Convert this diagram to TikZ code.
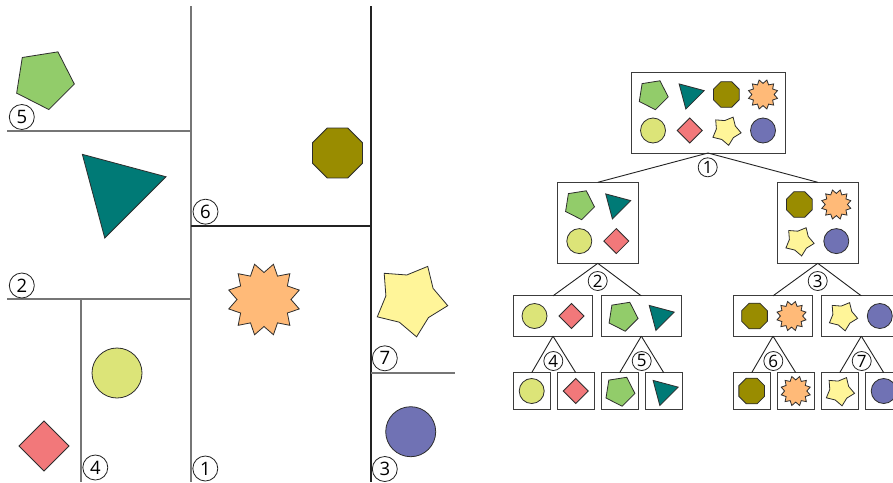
\documentclass[tikz,border=0pt]{standalone}
\usepackage{fontspec}
\setmainfont{Open Sans}
\definecolor{cPent}{RGB}{146,204,106}
\definecolor{cTri}{RGB}{0,122,118}
\definecolor{cOct}{RGB}{153,140,0}
\definecolor{cBurst}{RGB}{255,186,120}
\definecolor{cStar}{RGB}{255,245,153}
\definecolor{cBlue}{RGB}{112,114,180}
\definecolor{cYG}{RGB}{220,228,120}
\definecolor{cDia}{RGB}{242,120,122}
\definecolor{lgray}{RGB}{118,118,118}
\definecolor{ldark}{RGB}{35,35,35}
\definecolor{sline}{RGB}{45,45,45}
\definecolor{bline}{RGB}{60,60,60}
\tikzset{
  sh/.style={draw=sline,line width=0.8pt,line join=miter},
  pgray/.style={draw=lgray,line width=1.6pt},
  pdark/.style={draw=ldark,line width=1.6pt},
  bigLbl/.style={circle,draw=ldark,line width=0.8pt,minimum size=25pt,inner sep=0pt,font=\fontsize{18.5}{18.5}\selectfont},
  treeLbl/.style={circle,draw=ldark,line width=0.8pt,minimum size=19pt,inner sep=0pt,font=\fontsize{17}{17}\selectfont},
  tbox/.style={draw=bline,line width=1pt,outer sep=0pt,inner sep=0pt},
  edge/.style={draw=ldark,line width=0.9pt},
  pics/pent/.style={code={\draw[sh,fill=cPent] (-9:#1pt) -- (63:#1pt) -- (135:#1pt) -- (207:#1pt) -- (279:#1pt) -- cycle;}},
  pics/tri/.style={code={\draw[sh,fill=cTri] (15:#1pt) -- (135:#1pt) -- (255:#1pt) -- cycle;}},
  pics/oct/.style={code={\draw[sh,fill=cOct] (22.5:#1pt) \foreach \a in {67.5,112.5,...,337.5}{ -- (\a:#1pt)} -- cycle;}},
  pics/burst/.style={code={\pgfmathsetmacro\rin{0.74*#1}
     \draw[sh,fill=cBurst] (15:#1pt) \foreach \a in {30,60,...,360}{ -- (\a:\rin pt) -- ({\a+15}:#1pt)} -- cycle;}},
  pics/pstar/.style={code={\pgfmathsetmacro\rin{0.67*#1}
     \draw[sh,fill=cStar] (-9:#1pt) \foreach \a in {63,135,207,279}{ -- ({\a-36}:\rin pt) -- (\a:#1pt)} -- (315:\rin pt) -- cycle;}},
  pics/bcirc/.style={code={\draw[sh,fill=cBlue] (0,0) circle[radius=#1pt];}},
  pics/ycirc/.style={code={\draw[sh,fill=cYG] (0,0) circle[radius=#1pt];}},
  pics/dia/.style={code={\draw[sh,fill=cDia] (0:#1pt) -- (90:#1pt) -- (180:#1pt) -- (270:#1pt) -- cycle;}},
}
\begin{document}
\begin{tikzpicture}[x=1pt,y=-1pt]
\useasboundingbox[fill=white] (0,0) rectangle (893,482);
% ---------- partition ----------
\draw[pgray] (191,6) -- (191,482);
\draw[pdark] (371,6) -- (371,482);
\draw[pgray] (7,131) -- (191,131);
\draw[pgray] (7,299) -- (191,299);
\draw[pgray] (81,299) -- (81,482);
\draw[pdark] (191,226) -- (371,226);
\draw[pgray] (371,373) -- (455,373);
% big shapes
\pic at (44,79.2) {pent=30.7};
\pic at (117.7,189.7) {tri=50};
\pic at (337.5,153) {oct=27};
\pic at (264,299.5) {burst=36.5};
\pic at (410.7,299.8) {pstar=37.5};
\pic at (410.7,431.7) {bcirc=25};
\pic at (117,373) {ycirc=25};
\pic at (44,446) {dia=25};
% big labels
\node[bigLbl] (p5) at (21.8,117) {5};
\node[bigLbl] (p2) at (21.8,285.5) {2};
\node[bigLbl] (p4) at (95.3,467.5) {4};
\node[bigLbl] (p6) at (205.5,211.7) {6};
\node[bigLbl] (p1) at (205.3,468.5) {1};
\node[bigLbl] (p7) at (384.8,358.3) {7};
\node[bigLbl] (p3) at (384.8,469) {3};
% ---------- tree ----------
\node[tbox,minimum width=154pt,minimum height=81pt] (root) at (708,112.5) {};
\node[tbox,minimum width=81pt,minimum height=81pt] (cL) at (597.8,222.8) {};
\node[tbox,minimum width=81pt,minimum height=81pt] (cR) at (817.8,222.8) {};
\foreach \n/\x in {gA/553,gB/641.3,gC/773,gD/861.3}{
  \node[tbox,minimum width=79.4pt,minimum height=40.3pt] (\n) at (\x,316) {};
}
\foreach \n/\x in {l1/531.7,l2/575.7,l3/619.7,l4/663.7,l5/751.7,l6/795.7,l7/839.7,l8/883.7}{
  \node[tbox,minimum width=36.7pt,minimum height=36.7pt] (\n) at (\x,391) {};
}
% edges
\draw[edge] (root.south) -- (cL.north);
\draw[edge] (root.south) -- (cR.north);
\draw[edge] (cL.south) -- (gA.north);
\draw[edge] (cL.south) -- (gB.north);
\draw[edge] (cR.south) -- (gC.north);
\draw[edge] (cR.south) -- (gD.north);
\draw[edge] (gA.south) -- (l1.north);
\draw[edge] (gA.south) -- (l2.north);
\draw[edge] (gB.south) -- (l3.north);
\draw[edge] (gB.south) -- (l4.north);
\draw[edge] (gC.south) -- (l5.north);
\draw[edge] (gC.south) -- (l6.north);
\draw[edge] (gD.south) -- (l7.north);
\draw[edge] (gD.south) -- (l8.north);
% tree labels
\node[treeLbl,fill=white] (t1) at (707.7,167.3) {1};
\node[treeLbl,fill=white] (t2) at (597.7,281) {2};
\node[treeLbl,fill=white] (t3) at (817.7,281) {3};
\node[treeLbl,fill=white] (t4) at (553.3,361) {4};
\node[treeLbl,fill=white] (t5) at (641.7,361) {5};
\node[treeLbl,fill=white] (t6) at (773.3,361) {6};
\node[treeLbl,fill=white] (t7) at (861.7,361) {7};
% root shapes
\pic at ([shift={(-55,-18)}]root.center) {pent=15.4};
\pic at ([shift={(-18.3,-18)}]root.center) {tri=15};
\pic at ([shift={(18.3,-18)}]root.center) {oct=13.9};
\pic at ([shift={(55,-18)}]root.center) {burst=15};
\pic at ([shift={(-55,18)}]root.center) {ycirc=12.5};
\pic at ([shift={(-18.3,18)}]root.center) {dia=12.5};
\pic at ([shift={(18.3,18)}]root.center) {pstar=15};
\pic at ([shift={(55,18)}]root.center) {bcirc=12.5};
% child shapes
\pic at ([shift={(-18.5,-18.3)}]cL.center) {pent=15.4};
\pic at ([shift={(18.5,-18.3)}]cL.center) {tri=15};
\pic at ([shift={(-18.5,18.3)}]cL.center) {ycirc=12.5};
\pic at ([shift={(18.5,18.3)}]cL.center) {dia=12.5};
\pic at ([shift={(-18.5,-18.3)}]cR.center) {oct=13.9};
\pic at ([shift={(18.5,-18.3)}]cR.center) {burst=15};
\pic at ([shift={(-18.5,18.3)}]cR.center) {pstar=15};
\pic at ([shift={(18.5,18.3)}]cR.center) {bcirc=12.5};
% grandchild shapes
\pic at ([shift={(-18.5,0)}]gA.center) {ycirc=12.5};
\pic at ([shift={(18.5,0)}]gA.center) {dia=12.5};
\pic at ([shift={(-18.5,0)}]gB.center) {pent=15.4};
\pic at ([shift={(18.5,0)}]gB.center) {tri=15};
\pic at ([shift={(-18.5,0)}]gC.center) {oct=13.9};
\pic at ([shift={(18.5,0)}]gC.center) {burst=15};
\pic at ([shift={(-18.5,0)}]gD.center) {pstar=15};
\pic at ([shift={(18.5,0)}]gD.center) {bcirc=12.5};
% leaf shapes
\pic at (l1.center) {ycirc=12.5};
\pic at (l2.center) {dia=12.5};
\pic at (l3.center) {pent=15.4};
\pic at (l4.center) {tri=15};
\pic at (l5.center) {oct=13.9};
\pic at (l6.center) {burst=15};
\pic at (l7.center) {pstar=15};
\pic at (l8.center) {bcirc=12.5};
\end{tikzpicture}
\end{document}
